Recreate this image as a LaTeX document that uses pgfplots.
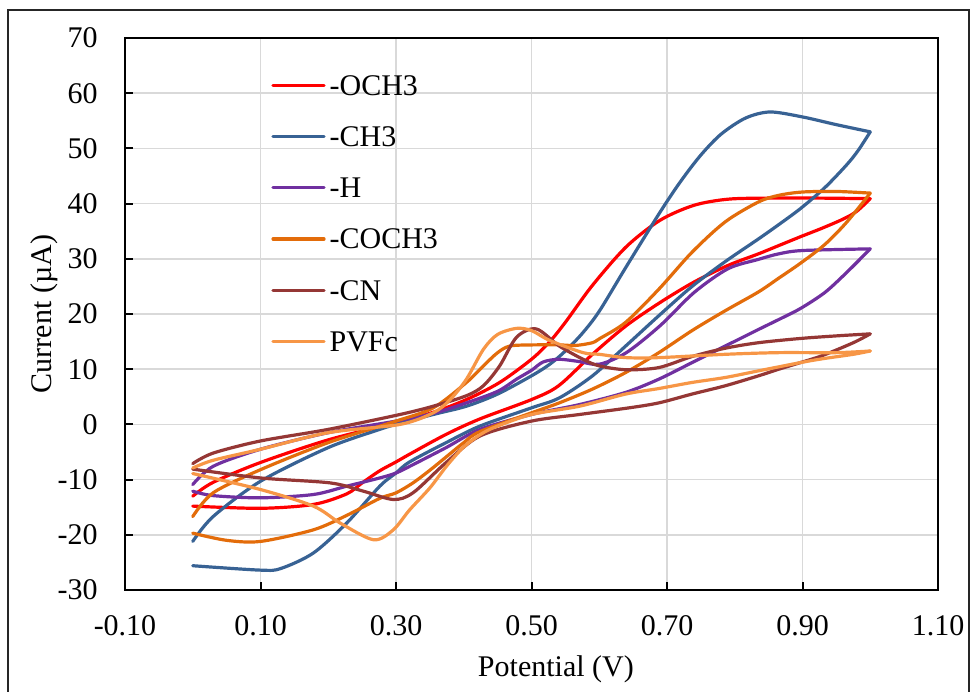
\documentclass[border=0pt]{standalone}
\usepackage{fontspec}
\setmainfont{Liberation Serif}
\usepackage{pgfplots}
\pgfplotsset{compat=1.18}
\definecolor{cOCH}{RGB}{255,0,0}
\definecolor{cCH}{RGB}{56,98,148}
\definecolor{cH}{RGB}{112,48,160}
\definecolor{cCOCH}{RGB}{227,108,10}
\definecolor{cCN}{RGB}{149,55,53}
\definecolor{cPV}{RGB}{247,150,70}
\begin{document}
\begin{tikzpicture}
\useasboundingbox (0,0) rectangle (487pt,-345.5pt);
\draw[line width=1pt, black!85] (4pt,-5pt) rectangle (484.5pt,-352pt);
\begin{axis}[
  at={(62.5pt,-295pt)}, anchor=south west,
  scale only axis, width=406.5pt, height=276pt,
  xmin=-0.1, xmax=1.1, ymin=-30, ymax=70,
  xtick={-0.1,0.1,0.3,0.5,0.7,0.9,1.1},
  ytick={-30,-20,-10,0,10,20,30,40,50,60,70},
  font=\fontsize{15}{18}\selectfont,
  /pgf/number format/assume math mode=true,
  xticklabel style={/pgf/number format/fixed, /pgf/number format/fixed zerofill, /pgf/number format/precision=2, anchor=base, yshift=-22.5pt, inner sep=0pt},
  yticklabel style={anchor=east, inner sep=0pt, xshift=-13.5pt},
  grid=major, major grid style={draw=gray!30, line width=0.75pt},
  axis line style={line width=1pt},
  tick style={black, line width=1pt}, major tick length=4pt,
  tick pos=left, tick align=inside,
  xlabel={Potential (V)}, ylabel={Current (µA)},
  xlabel style={at={(axis description cs:0.530,-0.1558)}, anchor=base, inner sep=0pt},
  ylabel style={at={(axis description cs:-0.0898,0.5)}, anchor=base, inner sep=0pt},
  legend style={at={(axis description cs:0.1796,0.933)}, anchor=north west, draw=none, fill=none,
    inner sep=0pt, row sep=15.6pt, column sep=2pt,
    nodes={inner sep=0pt, text height=10pt, text depth=0pt}},
  legend cell align=left,
  legend image code/.code={\draw[#1] (0pt,0pt) -- (25.5pt,0pt);},
  every axis plot/.append style={line width=1.6pt, line join=round, line cap=round, smooth},
]
% -OCH3
\addplot[cOCH] coordinates {(0.0,-13.0) (0.03,-10.5) (0.1,-6.9) (0.2,-2.8) (0.3,0.3) (0.355,2.2) (0.404,4.5) (0.453,7.6) (0.5,11.8) (0.527,15.0) (0.55,18.5) (0.59,25.2) (0.64,32.2) (0.69,37.0) (0.74,39.7) (0.79,40.8) (0.85,41.0) (0.92,41.0) (1.0,40.9)};
\addlegendentry{-OCH3}
\addplot[cOCH, forget plot] coordinates {(1.0,40.9) (0.98,38.6) (0.96,37.2) (0.93,35.6) (0.897,34.0) (0.865,32.4) (0.835,30.9) (0.79,28.8) (0.74,25.8) (0.69,22.1) (0.64,17.9) (0.59,12.7) (0.54,7.0) (0.5,4.5) (0.424,1.0) (0.374,-1.8) (0.32,-5.4) (0.3,-6.8) (0.276,-8.4) (0.25,-10.6) (0.227,-12.6) (0.178,-14.5) (0.1,-15.2) (0.0,-14.8)};
% -CH3
\addplot[cCH] coordinates {(0.0,-21.2) (0.03,-16.7) (0.1,-10.3) (0.2,-4.2) (0.276,-0.9) (0.3,0.0) (0.355,1.8) (0.404,3.3) (0.45,5.5) (0.5,8.8) (0.527,10.9) (0.55,13.3) (0.575,16.5) (0.6,20.5) (0.64,28.6) (0.69,38.5) (0.72,44.0) (0.75,48.8) (0.78,52.6) (0.816,55.5) (0.852,56.6) (0.9,55.7) (0.95,54.3) (1.0,53.0)};
\addlegendentry{-CH3}
\addplot[cCH, forget plot] coordinates {(1.0,53.0) (0.982,49.6) (0.965,47.0) (0.933,42.9) (0.897,39.1) (0.865,36.2) (0.835,33.6) (0.786,29.5) (0.737,25.0) (0.688,19.7) (0.639,14.2) (0.59,8.8) (0.541,4.8) (0.5,3.0) (0.424,-0.3) (0.374,-3.3) (0.32,-6.8) (0.3,-8.8) (0.276,-11.2) (0.227,-17.9) (0.178,-23.3) (0.13,-26.1) (0.1,-26.4) (0.0,-25.6)};
% -H
\addplot[cH] coordinates {(0.0,-10.9) (0.03,-7.6) (0.1,-4.5) (0.2,-1.5) (0.3,0.6) (0.355,2.0) (0.404,3.9) (0.45,6.0) (0.478,8.2) (0.5,9.8) (0.517,11.3) (0.54,11.8) (0.57,11.4) (0.6,10.9) (0.64,13.0) (0.69,17.9) (0.74,23.9) (0.79,28.2) (0.835,29.9) (0.865,30.9) (0.9,31.5) (1.0,31.8)};
\addlegendentry{-H}
\addplot[cH, forget plot] coordinates {(1.0,31.8) (0.965,27.5) (0.933,23.9) (0.897,21.0) (0.865,19.0) (0.835,17.2) (0.786,14.2) (0.737,11.2) (0.688,8.2) (0.639,5.8) (0.571,3.6) (0.5,1.8) (0.424,-0.9) (0.374,-4.2) (0.325,-7.3) (0.3,-8.8) (0.276,-9.7) (0.227,-11.2) (0.178,-12.7) (0.1,-13.3) (0.03,-12.9) (0.0,-12.1)};
% -COCH3
\addplot[cCOCH] coordinates {(0.0,-16.7) (0.03,-12.4) (0.1,-8.2) (0.2,-3.3) (0.3,0.6) (0.355,3.0) (0.404,7.6) (0.429,10.6) (0.45,13.0) (0.468,14.2) (0.5,14.4) (0.541,14.4) (0.565,14.3) (0.59,14.8) (0.6,15.5) (0.639,18.5) (0.688,24.5) (0.737,31.2) (0.786,36.7) (0.835,40.3) (0.865,41.5) (0.9,42.1) (0.95,42.2) (1.0,41.9)};
\addlegendentry{-COCH3}
\addplot[cCOCH, forget plot] coordinates {(1.0,41.9) (0.965,36.6) (0.933,32.6) (0.897,29.2) (0.865,26.5) (0.835,24.0) (0.786,20.6) (0.737,17.0) (0.688,13.0) (0.639,9.4) (0.59,6.4) (0.541,3.9) (0.5,2.1) (0.424,-1.3) (0.4,-3.3) (0.374,-5.9) (0.35,-8.3) (0.325,-10.6) (0.3,-12.4) (0.276,-13.4) (0.227,-16.5) (0.178,-19.1) (0.1,-21.2) (0.05,-21.0) (0.0,-19.7)};
% -CN
\addplot[cCN] coordinates {(0.0,-7.1) (0.03,-5.2) (0.1,-3.0) (0.2,-0.9) (0.306,1.8) (0.355,3.3) (0.404,5.2) (0.429,7.0) (0.453,10.6) (0.478,15.8) (0.507,17.3) (0.541,14.2) (0.576,11.8) (0.6,10.6) (0.64,9.9) (0.688,10.3) (0.737,12.3) (0.786,13.8) (0.835,14.8) (0.9,15.6) (0.958,16.1) (1.0,16.4)};
\addlegendentry{-CN}
\addplot[cCN, forget plot] coordinates {(1.0,16.4) (0.975,14.8) (0.93,12.5) (0.897,11.2) (0.865,10.0) (0.835,8.8) (0.786,7.0) (0.737,5.5) (0.688,3.9) (0.644,3.0) (0.571,1.8) (0.5,0.6) (0.424,-2.1) (0.374,-6.9) (0.325,-12.4) (0.296,-13.6) (0.252,-12.1) (0.203,-10.6) (0.1,-9.7) (0.0,-8.1)};
% PVFc
\addplot[cPV] coordinates {(0.0,-7.9) (0.03,-6.5) (0.1,-4.5) (0.2,-1.5) (0.306,0.0) (0.355,2.1) (0.38,4.5) (0.404,8.2) (0.429,13.6) (0.45,16.3) (0.478,17.4) (0.5,17.0) (0.527,15.2) (0.576,13.0) (0.6,12.7) (0.639,12.1) (0.688,12.1) (0.786,12.7) (0.865,13.0) (0.95,13.0) (1.0,13.3)};
\addlegendentry{PVFc}
\addplot[cPV, forget plot] coordinates {(1.0,13.3) (0.975,12.7) (0.93,11.9) (0.897,11.2) (0.835,9.7) (0.786,8.5) (0.737,7.6) (0.688,6.5) (0.639,5.5) (0.571,3.3) (0.5,1.8) (0.448,-0.4) (0.425,-1.8) (0.399,-4.2) (0.375,-7.5) (0.35,-11.5) (0.32,-15.5) (0.296,-19.1) (0.267,-20.9) (0.218,-17.9) (0.178,-14.8) (0.1,-11.8) (0.0,-8.9)};
\end{axis}
\end{tikzpicture}
\end{document}
